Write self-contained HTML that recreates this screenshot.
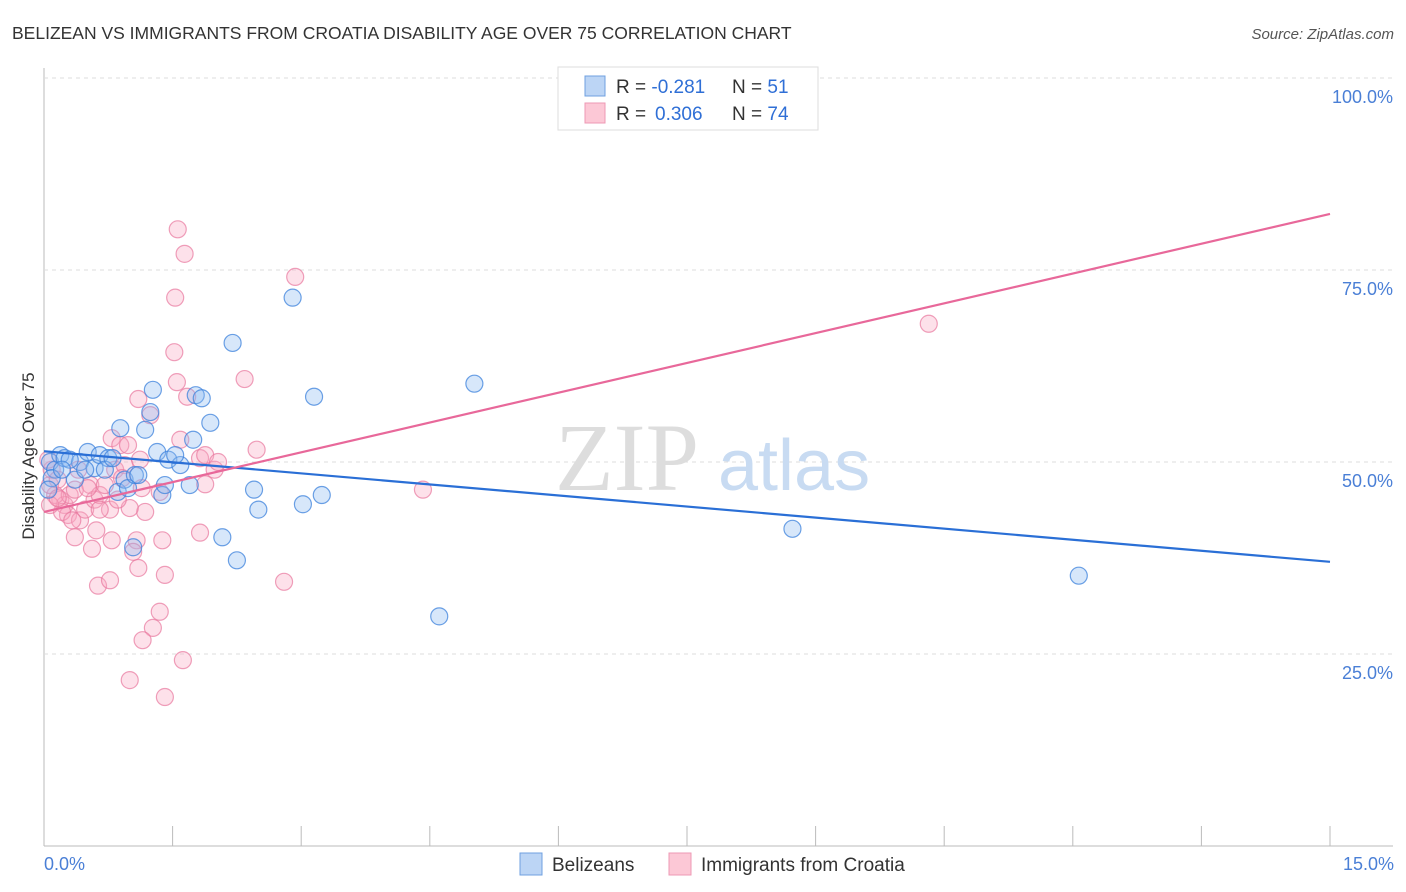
<!DOCTYPE html>
<html><head><meta charset="utf-8"><style>
body{margin:0;background:#fff;font-family:"Liberation Sans",sans-serif;}
</style></head><body>
<svg width="1406" height="892" style="display:block">
<text x="12" y="39" font-size="17.5" fill="#333">BELIZEAN VS IMMIGRANTS FROM CROATIA DISABILITY AGE OVER 75 CORRELATION CHART</text>
<text x="1394" y="39" font-size="15" fill="#555" font-style="italic" text-anchor="end">Source: ZipAtlas.com</text>
<g id="grid"></g>
<text x="555" y="490" font-size="96" font-family="Liberation Serif,serif" fill="#ddd">ZIP</text>
<text x="718" y="490" font-size="72" fill="#c8dbf2">atlas</text>
<g id="pts"></g>
<g id="lines"></g>
<text transform="translate(34,456) rotate(-90)" font-size="17" fill="#333" text-anchor="middle">Disability Age Over 75</text>
<text x="44" y="870" font-size="18" fill="#4a7fd6">0.0%</text>
<text x="1394" y="870" font-size="18" fill="#4a7fd6" text-anchor="end">15.0%</text>
<g>
<rect x="558" y="67" width="260" height="63" fill="#fff" stroke="#ddd"/>
<rect x="585" y="76" width="20" height="20" fill="#bcd5f5" stroke="#6fa0e0"/>
<rect x="585" y="103" width="20" height="20" fill="#fcc8d6" stroke="#ee98b4"/>
<text x="616" y="93" font-size="19" fill="#333">R = <tspan fill="#2f6fd6">-0.281</tspan><tspan x="732">N = </tspan><tspan fill="#2f6fd6">51</tspan></text>
<text x="616" y="120" font-size="19" fill="#333">R = <tspan x="655" fill="#2f6fd6">0.306</tspan><tspan x="732">N = </tspan><tspan fill="#2f6fd6">74</tspan></text>
</g>
<g>
<rect x="520" y="853" width="22" height="22" fill="#bcd5f5" stroke="#6fa0e0"/>
<text x="552" y="871" font-size="19" fill="#333">Belizeans</text>
<rect x="669" y="853" width="22" height="22" fill="#fcc8d6" stroke="#ee98b4"/>
<text x="701" y="871" font-size="19" fill="#333">Immigrants from Croatia</text>
</g>
</svg>
<script>
const yTicks=[100,75,50,25];
const yTickLabels=["100.0%","75.0%","50.0%","25.0%"];
const xTicks=[0,1.5,3,4.5,6,7.5,9,10.5,12,13.5,15];
const blueX=[0.07,0.13,0.09,0.19,0.24,0.36,0.42,0.51,0.59,0.65,0.75,0.86,0.89,0.94,0.98,1.06,1.10,1.04,1.18,1.24,1.27,1.32,1.38,1.41,1.45,1.59,1.70,1.74,1.77,1.84,1.94,2.08,2.20,2.25,2.45,2.50,2.90,3.02,3.15,3.24,5.02,4.61,8.73,12.07,0.30,0.48,0.71,0.21,0.80,0.05,1.53];
const blueY=[50.0,49.0,47.9,50.9,50.5,47.7,50.0,51.3,49.2,50.9,50.5,46.1,54.4,47.7,46.6,48.3,48.3,38.9,54.2,56.5,59.4,51.3,45.7,47.0,50.3,49.6,47.0,52.9,58.7,58.3,55.1,40.2,65.5,37.2,46.4,43.8,71.4,44.5,58.5,45.7,60.2,29.9,41.3,35.2,50.3,49.0,49.0,49.0,50.5,46.4,50.9];
const pinkX=[2.93,1.56,1.64,1.53,1.52,1.55,1.67,1.10,1.24,2.34,2.48,10.32,4.42,2.80,0.79,0.89,1.59,1.82,1.99,1.88,1.35,1.18,1.00,0.77,0.61,0.36,0.56,0.79,1.08,1.04,1.38,1.82,1.41,1.10,0.63,0.77,1.35,1.27,1.15,1.00,1.62,1.41,0.19,0.24,0.28,0.13,0.07,0.09,0.16,0.30,0.36,0.42,0.48,0.54,0.59,0.65,0.71,0.83,0.94,1.12,0.98,0.86,0.21,0.33,0.07,0.05,0.16,0.51,0.40,0.91,1.14,1.88,2.03,0.65];
const pinkY=[74.1,80.3,77.1,71.4,64.3,60.4,58.5,58.2,56.1,60.8,51.6,68.0,46.4,34.4,53.1,52.2,52.9,50.5,49.0,47.1,46.1,43.5,44.0,43.8,41.1,40.2,38.7,39.8,39.8,38.3,39.8,40.8,35.3,36.2,33.9,34.6,30.5,28.4,26.8,21.6,24.2,19.4,45.1,44.4,43.1,45.7,47.0,49.0,47.7,45.7,46.4,42.4,43.8,47.0,45.1,45.7,47.0,49.0,49.6,50.3,52.2,45.1,43.5,42.4,44.4,50.3,45.3,46.6,49.0,47.9,46.6,50.9,50.0,43.8];
const blueTrend=[51.4,37.0];
const pinkTrend=[43.5,82.3];
const NS="http://www.w3.org/2000/svg";
const X=v=>44+v/15*1286, Y=v=>846-v*7.68;
function mk(t,a,p){const e=document.createElementNS(NS,t);for(const k in a)e.setAttribute(k,a[k]);p.appendChild(e);return e;}
const g=document.getElementById('grid');
let ax=mk('line',{x1:44,y1:68,x2:44,y2:846,stroke:'#bbb'},g);

let bx=mk('line',{x1:44,y1:846,x2:1393,y2:846,stroke:'#bbb'},g);

yTicks.forEach((t,i)=>{
 const l=mk('line',{x1:44,x2:1393,y1:Y(t),y2:Y(t),stroke:'#ddd','stroke-dasharray':'4,4'},g);
 
 const tx=mk('text',{x:1393,y:Y(t)+25,'font-size':18,fill:'#4a7fd6','text-anchor':'end'},g);
 tx.textContent=yTickLabels[i];
 
});
xTicks.forEach(t=>{
 const l=mk('line',{x1:X(t),x2:X(t),y1:826,y2:846,stroke:'#bbb'},g);
 
});
const p=document.getElementById('pts');
function pts(xs,ys,fill,stroke,name){xs.forEach((x,i)=>{
 const c=mk('circle',{cx:X(x),cy:Y(ys[i]),r:8.5,fill:fill,stroke:stroke,'stroke-width':1.2},p);
 
});}
pts(pinkX,pinkY,'rgba(248,170,195,0.35)','rgba(232,120,158,0.7)','croatia-point');
pts(blueX,blueY,'rgba(140,185,240,0.35)','rgba(60,130,220,0.75)','belizean-point');
const L=document.getElementById('lines');
let b=mk('line',{x1:X(0),y1:Y(blueTrend[0]),x2:X(15),y2:Y(blueTrend[1]),stroke:'#2a6fd6','stroke-width':2.2},L);

let q=mk('line',{x1:X(0),y1:Y(pinkTrend[0]),x2:X(15),y2:Y(pinkTrend[1]),stroke:'#e8689a','stroke-width':2.2},L);

</script>
</body></html>
